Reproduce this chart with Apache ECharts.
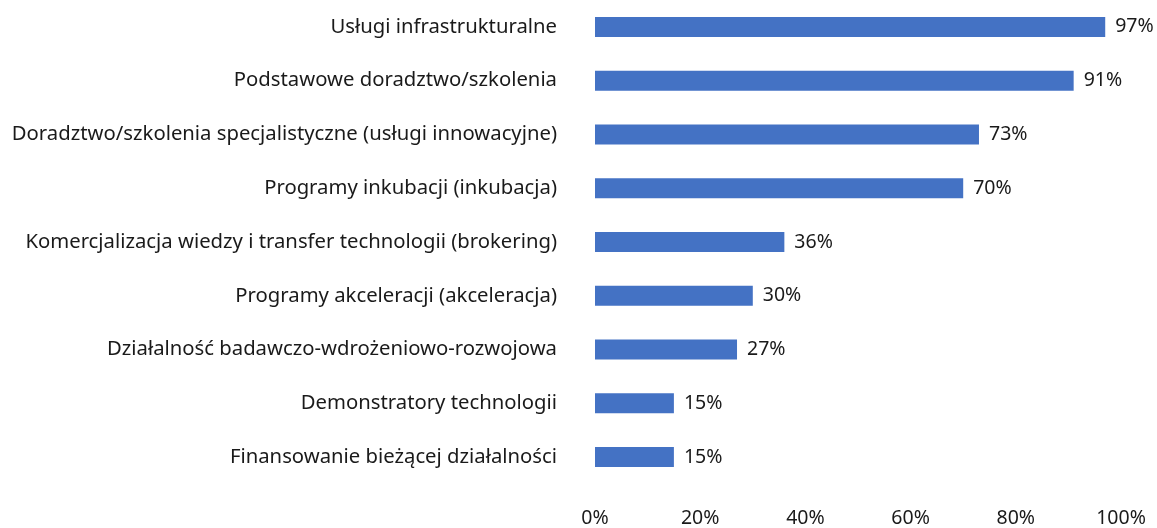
<!DOCTYPE html>
<html>
<head>
<meta charset="utf-8">
<script src="https://cdn.jsdelivr.net/npm/echarts@6/dist/echarts.min.js"></script>
<style>
    html, body { margin: 0; padding: 0; background: #fff; }
    #chart { width: 1157px; height: 528px; }
</style>
</head>
<body>
<div id="chart"></div>
<script>
/* categories from top to bottom */
var categories = [
    'Usługi infrastrukturalne',
    'Podstawowe doradztwo/szkolenia',
    'Doradztwo/szkolenia specjalistyczne (usługi innowacyjne)',
    'Programy inkubacji (inkubacja)',
    'Komercjalizacja wiedzy i transfer technologii (brokering)',
    'Programy akceleracji (akceleracja)',
    'Działalność badawczo-wdrożeniowo-rozwojowa',
    'Demonstratory technologii',
    'Finansowanie bieżącej działalności'
];
var values = [97, 91, 73, 70, 36, 30, 27, 15, 15];
var xTicks = [0, 20, 40, 60, 80, 100];

var myChart = echarts.init(document.getElementById('chart'));

var font = 'Noto Sans';
var textColor = '#1a1a1a';

var option = {
    animation: false,
    grid: {
        left: 595,
        right: 36,
        top: 0,
        bottom: 41,
        containLabel: false
    },
    xAxis: {
        type: 'value',
        min: xTicks[0],
        max: xTicks[xTicks.length - 1],
        interval: xTicks[1] - xTicks[0],
        axisLine: { show: false },
        axisTick: { show: false },
        splitLine: { show: false },
        axisLabel: {
            formatter: '{value}%',
            color: textColor,
            fontFamily: font,
            fontSize: 19.5,
            margin: 24
        }
    },
    yAxis: {
        type: 'category',
        inverse: true,
        data: categories,
        axisLine: { show: false },
        axisTick: { show: false },
        axisLabel: {
            color: textColor,
            fontFamily: font,
            fontSize: 20.3,
            margin: 38
        }
    },
    series: [{
        type: 'bar',
        data: values,
        barWidth: 20,
        itemStyle: { color: '#4472C4' },
        label: {
            show: true,
            position: 'right',
            distance: 10,
            formatter: '{c}%',
            color: textColor,
            fontFamily: font,
            fontSize: 19.5
        }
    }]
};

myChart.setOption(option);
</script>
</body>
</html>
